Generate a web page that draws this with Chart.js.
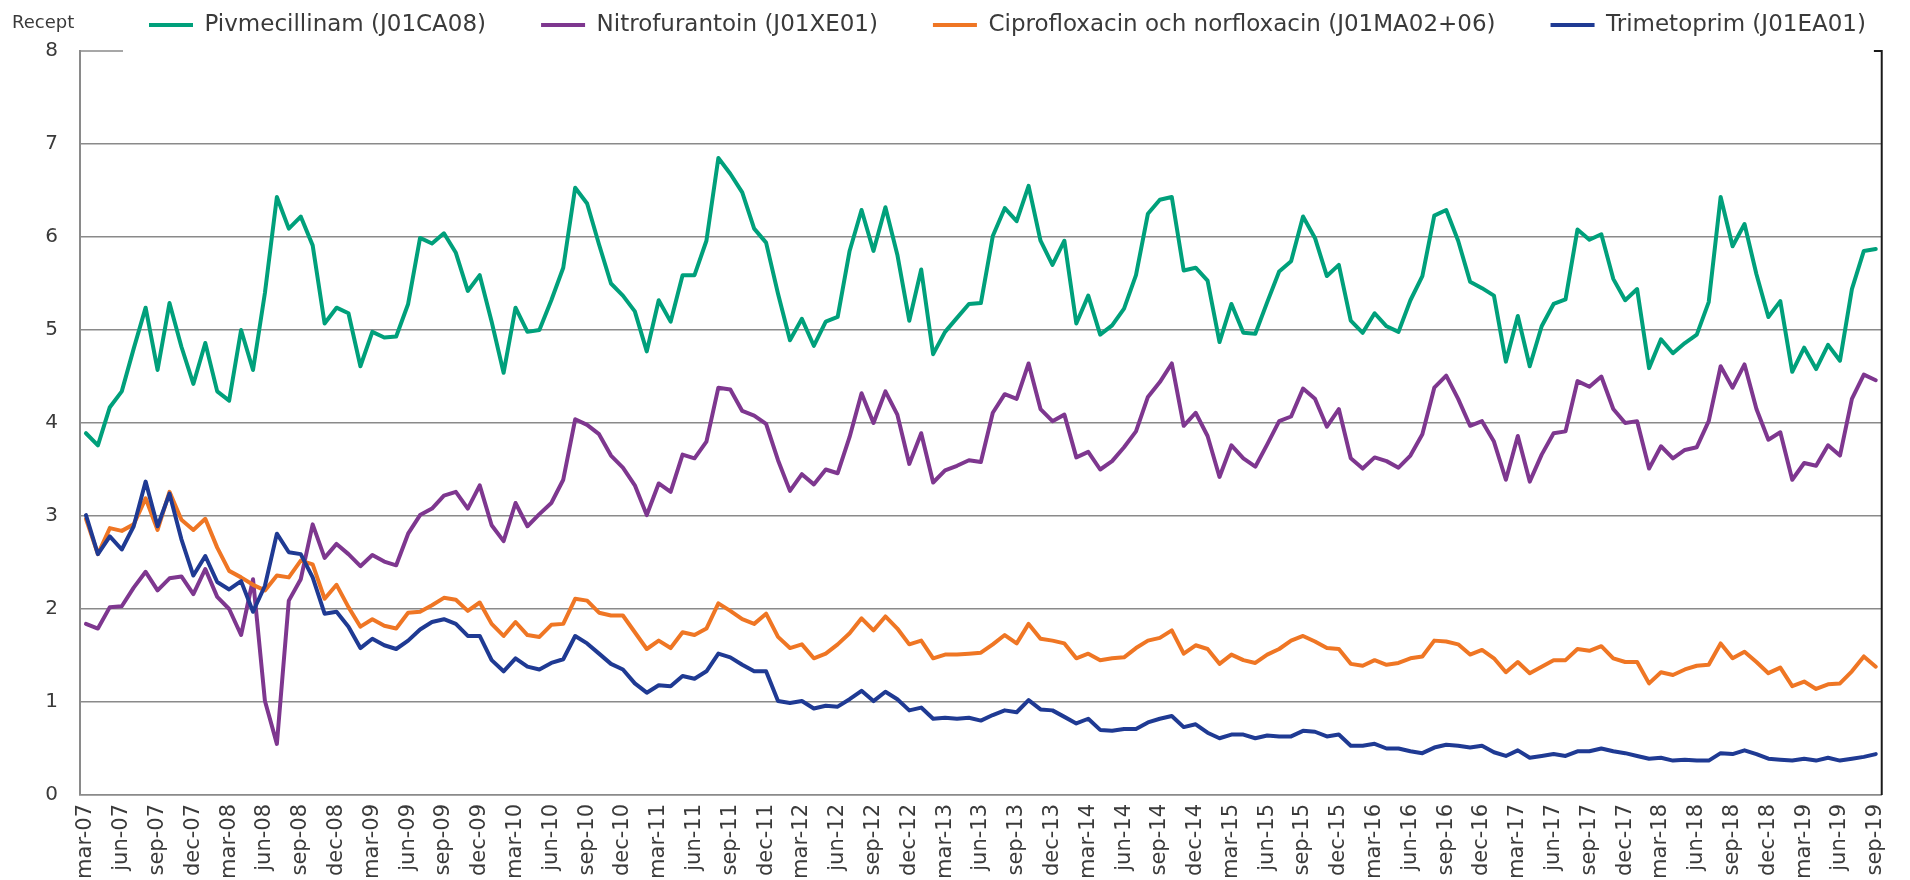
<!DOCTYPE html>
<html lang="sv">
<head>
<meta charset="utf-8">
<title>Recept per månad</title>
<script src="https://cdn.jsdelivr.net/npm/chart.js@4.4.1/dist/chart.umd.min.js"></script>
<style>
    html, body { margin: 0; padding: 0; background: #fff; }
    canvas { display: block; }
</style>
</head>
<body>
<canvas id="lineChart" width="1910" height="880"></canvas>
<script>
// Month labels, mar-07 .. sep-19 (one category per month)
const monthNames = ['jan', 'feb', 'mar', 'apr', 'maj', 'jun', 'jul', 'aug', 'sep', 'okt', 'nov', 'dec'];
const firstYear = 2007;
const firstMonth = 2;   // mar
const monthCount = 151;
const labels = [];
for (let i = 0; i < monthCount; i++) {
    const m = firstMonth + i;
    const yy = String((firstYear + Math.floor(m / 12)) % 100).padStart(2, '0');
    labels.push(monthNames[m % 12] + '-' + yy);
}

const seriesNames = [
    'Pivmecillinam (J01CA08)',
    'Nitrofurantoin (J01XE01)',
    'Ciprofloxacin och norfloxacin (J01MA02+06)',
    'Trimetoprim (J01EA01)'
];
const seriesColors = ['#00A07B', '#7E378F', '#EF7624', '#1F3A93'];

// each row = mar..feb
const pivmecillinam = [
    3.89, 3.76, 4.17, 4.34, 4.80, 5.24, 4.57, 5.29, 4.82, 4.42, 4.86, 4.34,
    4.24, 5.00, 4.57, 5.40, 6.43, 6.09, 6.22, 5.91, 5.07, 5.24, 5.18, 4.61,
    4.98, 4.92, 4.93, 5.28, 5.99, 5.93, 6.04, 5.83, 5.42, 5.59, 5.09, 4.54,
    5.24, 4.98, 5.00, 5.32, 5.67, 6.53, 6.36, 5.92, 5.50, 5.37, 5.20, 4.77,
    5.32, 5.09, 5.59, 5.59, 5.96, 6.85, 6.68, 6.48, 6.09, 5.94, 5.39, 4.89,
    5.12, 4.83, 5.09, 5.14, 5.85, 6.29, 5.85, 6.32, 5.81, 5.10, 5.65, 4.74,
    4.98, 5.13, 5.28, 5.29, 6.01, 6.31, 6.17, 6.55, 5.96, 5.70, 5.96, 5.07,
    5.37, 4.95, 5.05, 5.23, 5.59, 6.25, 6.40, 6.43, 5.64, 5.67, 5.53, 4.87,
    5.28, 4.97, 4.96, 5.30, 5.63, 5.74, 6.22, 5.99, 5.58, 5.70, 5.10, 4.97,
    5.18, 5.04, 4.98, 5.32, 5.58, 6.23, 6.29, 5.96, 5.52, 5.45, 5.37, 4.66,
    5.15, 4.61, 5.04, 5.28, 5.33, 6.08, 5.97, 6.03, 5.55, 5.32, 5.44, 4.59,
    4.90, 4.75, 4.86, 4.95, 5.30, 6.43, 5.90, 6.14, 5.60, 5.14, 5.31, 4.55,
    4.81, 4.58, 4.84, 4.67, 5.44, 5.85, 5.87
];
const nitrofurantoin = [
    1.84, 1.79, 2.02, 2.03, 2.23, 2.40, 2.20, 2.33, 2.35, 2.16, 2.43, 2.13,
    2.00, 1.72, 2.32, 1.01, 0.55, 2.09, 2.32, 2.91, 2.55, 2.70, 2.59, 2.46,
    2.58, 2.51, 2.47, 2.81, 3.01, 3.08, 3.22, 3.26, 3.08, 3.33, 2.90, 2.73,
    3.14, 2.89, 3.02, 3.14, 3.39, 4.04, 3.98, 3.88, 3.65, 3.52, 3.33, 3.01,
    3.35, 3.26, 3.66, 3.62, 3.80, 4.38, 4.36, 4.13, 4.08, 3.99, 3.60, 3.27,
    3.45, 3.34, 3.50, 3.46, 3.85, 4.32, 4.00, 4.34, 4.09, 3.56, 3.89, 3.36,
    3.49, 3.54, 3.60, 3.58, 4.11, 4.31, 4.26, 4.64, 4.15, 4.02, 4.09, 3.63,
    3.69, 3.50, 3.59, 3.74, 3.91, 4.28, 4.44, 4.64, 3.97, 4.11, 3.86, 3.42,
    3.76, 3.62, 3.53, 3.77, 4.02, 4.07, 4.37, 4.26, 3.96, 4.15, 3.62, 3.51,
    3.63, 3.59, 3.52, 3.65, 3.88, 4.38, 4.51, 4.26, 3.97, 4.02, 3.80, 3.39,
    3.86, 3.37, 3.66, 3.89, 3.91, 4.45, 4.39, 4.50, 4.15, 4.00, 4.02, 3.51,
    3.75, 3.62, 3.71, 3.74, 4.02, 4.61, 4.38, 4.63, 4.15, 3.82, 3.90, 3.39,
    3.57, 3.54, 3.76, 3.65, 4.26, 4.52, 4.46
];
const ciprofloxacin = [
    2.97, 2.59, 2.87, 2.84, 2.91, 3.19, 2.85, 3.26, 2.96, 2.85, 2.97, 2.66,
    2.41, 2.34, 2.26, 2.20, 2.36, 2.34, 2.52, 2.48, 2.11, 2.26, 2.02, 1.81,
    1.89, 1.82, 1.79, 1.96, 1.97, 2.04, 2.12, 2.10, 1.98, 2.07, 1.84, 1.71,
    1.86, 1.72, 1.70, 1.83, 1.84, 2.11, 2.09, 1.96, 1.93, 1.93, 1.75, 1.57,
    1.66, 1.58, 1.75, 1.72, 1.79, 2.06, 1.98, 1.89, 1.84, 1.95, 1.70, 1.58,
    1.62, 1.47, 1.52, 1.62, 1.74, 1.90, 1.77, 1.92, 1.79, 1.62, 1.66, 1.47,
    1.51, 1.51, 1.52, 1.53, 1.62, 1.72, 1.63, 1.84, 1.68, 1.66, 1.63, 1.47,
    1.52, 1.45, 1.47, 1.48, 1.58, 1.66, 1.69, 1.77, 1.52, 1.61, 1.57, 1.41,
    1.51, 1.45, 1.42, 1.51, 1.57, 1.66, 1.71, 1.65, 1.58, 1.57, 1.41, 1.39,
    1.45, 1.40, 1.42, 1.47, 1.49, 1.66, 1.65, 1.62, 1.51, 1.56, 1.47, 1.32,
    1.43, 1.31, 1.38, 1.45, 1.45, 1.57, 1.55, 1.60, 1.47, 1.43, 1.43, 1.20,
    1.32, 1.29, 1.35, 1.39, 1.40, 1.63, 1.47, 1.54, 1.43, 1.31, 1.37, 1.17,
    1.22, 1.14, 1.19, 1.20, 1.33, 1.49, 1.38
];
const trimetoprim = [
    3.01, 2.59, 2.78, 2.64, 2.89, 3.37, 2.89, 3.24, 2.75, 2.36, 2.57, 2.29,
    2.21, 2.30, 1.97, 2.25, 2.81, 2.61, 2.59, 2.34, 1.95, 1.97, 1.81, 1.58,
    1.68, 1.61, 1.57, 1.66, 1.78, 1.86, 1.89, 1.84, 1.71, 1.71, 1.45, 1.33,
    1.47, 1.38, 1.35, 1.42, 1.46, 1.71, 1.63, 1.52, 1.41, 1.35, 1.20, 1.10,
    1.18, 1.17, 1.28, 1.25, 1.33, 1.52, 1.48, 1.40, 1.33, 1.33, 1.01, 0.99,
    1.01, 0.93, 0.96, 0.95, 1.03, 1.12, 1.01, 1.11, 1.03, 0.91, 0.94, 0.82,
    0.83, 0.82, 0.83, 0.80, 0.86, 0.91, 0.89, 1.02, 0.92, 0.91, 0.84, 0.77,
    0.82, 0.70, 0.69, 0.71, 0.71, 0.78, 0.82, 0.85, 0.73, 0.76, 0.67, 0.61,
    0.65, 0.65, 0.61, 0.64, 0.63, 0.63, 0.69, 0.68, 0.63, 0.65, 0.53, 0.53,
    0.55, 0.50, 0.50, 0.47, 0.45, 0.51, 0.54, 0.53, 0.51, 0.53, 0.46, 0.42,
    0.48, 0.40, 0.42, 0.44, 0.42, 0.47, 0.47, 0.50, 0.47, 0.45, 0.42, 0.39,
    0.40, 0.37, 0.38, 0.37, 0.37, 0.45, 0.44, 0.48, 0.44, 0.39, 0.38, 0.37,
    0.39, 0.37, 0.40, 0.37, 0.39, 0.41, 0.44
];

const yTicks = [0, 1, 2, 3, 4, 5, 6, 7, 8];

const gridColor = '#8a8a8a';
const textColor = '#3a3a3a';
const fontFamily = '"DejaVu Sans", Verdana, sans-serif';
const legendFontSize = 23;
const legendGap = 55;
const plotTop = 51;        // where the plot area starts
const legendMiddle = 25;   // vertical centre of the legend row
const legendStart = 149;   // left end of the first legend marker

const allSeries = [pivmecillinam, nitrofurantoin, ciprofloxacin, trimetoprim];

// give the legend box a fixed height, then move its row to where it sits in the original
const legendPlacement = {
    id: 'legendPlacement',
    beforeInit(chart) {
        const fit = chart.legend.fit;
        chart.legend.fit = function () {
            fit.bind(chart.legend)();
            this.height = plotTop;
        };
    },
    afterLayout(chart) {
        const lg = chart.legend;
        // only the top moves: the legend clips to its own box, so the bottom stays put
        lg.top += legendMiddle - (lg.top + legendGap + legendFontSize / 2);
        const startX = (lg.left + legendGap + lg.right - lg.lineWidths[0]) / 2;
        const dx = legendStart - startX;
        lg.left += dx;
        lg.right += dx;
    }
};

// plot frame: broken top line next to the legend, dark right edge, unit label
const framePlugin = {
    id: 'frame',
    afterDraw(chart) {
        const { ctx, chartArea: a, legend } = chart;
        const boxes = legend.legendHitBoxes;
        const first = boxes[0];
        const last = boxes[boxes.length - 1];
        ctx.save();
        ctx.lineWidth = 1.5;
        ctx.strokeStyle = gridColor;
        ctx.beginPath();
        ctx.moveTo(a.left, a.top);
        ctx.lineTo(first.left - 26, a.top);
        ctx.stroke();
        ctx.strokeStyle = '#1a1a1a';
        ctx.lineWidth = 2;
        ctx.beginPath();
        ctx.moveTo(last.left + last.width + 8, a.top);
        ctx.lineTo(a.right, a.top);
        ctx.lineTo(a.right, a.bottom);
        ctx.stroke();

        ctx.fillStyle = textColor;
        ctx.font = '18px ' + fontFamily;
        ctx.textAlign = 'left';
        ctx.textBaseline = 'middle';
        ctx.fillText('Recept', 12, legendMiddle - 2);
        ctx.restore();
    }
};

const ctx = document.getElementById('lineChart').getContext('2d');
new Chart(ctx, {
    type: 'line',
    data: {
        labels: labels,
        datasets: allSeries.map((values, i) => ({
            label: seriesNames[i],
            data: values,
            borderColor: seriesColors[i],
            backgroundColor: seriesColors[i],
            borderWidth: 4,
            borderJoinStyle: 'round',
            borderCapStyle: 'round',
            pointRadius: 0,
            tension: 0,
            fill: false,
            order: allSeries.length - i   // last series drawn on top
        }))
    },
    options: {
        responsive: false,
        animation: false,
        devicePixelRatio: 1,
        layout: { padding: { top: 0, right: 10, left: 0, bottom: 0 } },
        scales: {
            x: {
                offset: true,
                grid: { display: false, drawTicks: false },
                border: { display: true, color: gridColor, width: 1.5 },
                ticks: {
                    autoSkip: false,
                    maxRotation: 90,
                    minRotation: 90,
                    padding: 9,
                    color: textColor,
                    font: { family: fontFamily, size: 21 },
                    callback: (value, index) => index % 3 === 0 ? labels[index] : ''
                },
                afterFit: (scale) => { scale.height = 85; }
            },
            y: {
                min: yTicks[0],
                max: yTicks[yTicks.length - 1],
                afterBuildTicks: (scale) => { scale.ticks = yTicks.map(v => ({ value: v })); },
                grid: {
                    drawTicks: false,
                    lineWidth: 1.5,
                    color: (c) => c.tick && c.tick.value === yTicks[yTicks.length - 1] ? 'rgba(0,0,0,0)' : gridColor
                },
                border: { display: true, color: gridColor, width: 2 },
                ticks: {
                    padding: 22,
                    color: textColor,
                    font: { family: fontFamily, size: 20 }
                },
                afterFit: (scale) => { scale.width = 80; }
            }
        },
        plugins: {
            legend: {
                position: 'top',
                labels: {
                    usePointStyle: true,
                    pointStyle: 'line',
                    pointStyleWidth: 44,
                    padding: legendGap,
                    color: textColor,
                    font: { family: fontFamily, size: legendFontSize },
                    sort: (a, b) => a.datasetIndex - b.datasetIndex
                }
            },
            tooltip: { enabled: false }
        }
    },
    plugins: [legendPlacement, framePlugin]
});
</script>
</body>
</html>
